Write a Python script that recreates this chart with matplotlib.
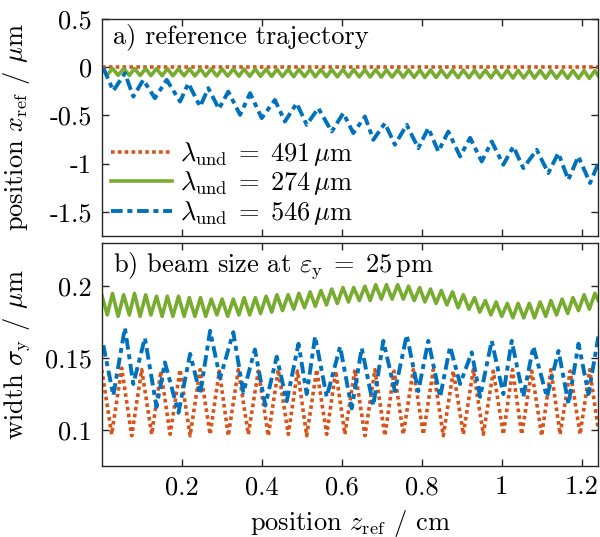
import numpy as np
import matplotlib
matplotlib.use("Agg")
import matplotlib.pyplot as plt

plt.rcParams["font.family"] = ["cmr10", "DejaVu Serif"]
plt.rcParams["mathtext.fontset"] = "cm"
plt.rcParams["axes.unicode_minus"] = False
plt.rcParams["axes.formatter.use_mathtext"] = True
plt.rcParams["font.size"] = 19

# ---- data ----
z_lim = [0.0, 1.2415]

# lambda_und = 491 um (orange, dotted)
x491_z = [0.0, 1.2415]
x491 = [0.0, 0.0]

size491_z = [0.000, 0.025, 0.050, 0.075, 0.100, 0.125, 0.148, 0.171, 0.196, 0.221,
             0.246, 0.271, 0.294, 0.3165, 0.3415, 0.3665, 0.3915, 0.4165, 0.4415, 0.4665,
             0.4895, 0.5125, 0.5375, 0.5625, 0.585, 0.608, 0.633, 0.658, 0.683, 0.708,
             0.731, 0.754, 0.779, 0.804, 0.829, 0.854, 0.879, 0.904, 0.929, 0.954,
             0.979, 1.004, 1.027, 1.050, 1.075, 1.100, 1.123, 1.146, 1.171, 1.196,
             1.220, 1.2415]
size491 = [0.142, 0.097, 0.143, 0.096, 0.142, 0.097, 0.141, 0.097, 0.142, 0.096,
           0.142, 0.097, 0.141, 0.096, 0.142, 0.097, 0.141, 0.096, 0.142, 0.097,
           0.141, 0.096, 0.142, 0.097, 0.141, 0.097, 0.142, 0.096, 0.142, 0.096,
           0.141, 0.097, 0.142, 0.097, 0.142, 0.096, 0.141, 0.097, 0.142, 0.097,
           0.141, 0.097, 0.142, 0.097, 0.141, 0.096, 0.142, 0.097, 0.141, 0.097,
           0.142, 0.100]

# lambda_und = 274 um (green, solid)
g274_z = [0.000, 0.014, 0.027, 0.041, 0.055, 0.069, 0.082, 0.096, 0.110, 0.123,
          0.137, 0.151, 0.164, 0.178, 0.192, 0.206, 0.219, 0.233, 0.247, 0.260,
          0.274, 0.288, 0.301, 0.315, 0.329, 0.343, 0.356, 0.370, 0.384, 0.397,
          0.411, 0.425, 0.438, 0.452, 0.466, 0.480, 0.493, 0.507, 0.521, 0.534,
          0.548, 0.562, 0.575, 0.589, 0.603, 0.617, 0.630, 0.644, 0.658, 0.671,
          0.685, 0.699, 0.712, 0.726, 0.740, 0.754, 0.767, 0.781, 0.795, 0.808,
          0.822, 0.836, 0.849, 0.863, 0.877, 0.891, 0.904, 0.918, 0.932, 0.945,
          0.959, 0.973, 0.986, 1.000, 1.014, 1.028, 1.041, 1.055, 1.069, 1.082,
          1.096, 1.110, 1.123, 1.137, 1.151, 1.165, 1.178, 1.192, 1.206, 1.219,
          1.233, 1.2415]
x274 = [0.000, -0.082, -0.012, -0.084, -0.013, -0.085, -0.013, -0.086, -0.014, -0.087,
        -0.014, -0.088, -0.015, -0.088, -0.016, -0.089, -0.016, -0.090, -0.017, -0.091,
        -0.017, -0.091, -0.018, -0.092, -0.018, -0.093, -0.019, -0.094, -0.019, -0.094,
        -0.020, -0.095, -0.021, -0.096, -0.021, -0.097, -0.022, -0.097, -0.022, -0.098,
        -0.023, -0.099, -0.023, -0.100, -0.024, -0.100, -0.024, -0.101, -0.025, -0.102,
        -0.025, -0.103, -0.026, -0.103, -0.026, -0.104, -0.027, -0.105, -0.027, -0.106,
        -0.028, -0.106, -0.028, -0.107, -0.029, -0.108, -0.029, -0.109, -0.030, -0.109,
        -0.030, -0.110, -0.031, -0.111, -0.031, -0.112, -0.032, -0.112, -0.032, -0.113,
        -0.033, -0.114, -0.033, -0.114, -0.034, -0.115, -0.034, -0.116, -0.035, -0.116,
        -0.035, -0.090]
size274 = [0.194, 0.180, 0.195, 0.179, 0.194, 0.180, 0.195, 0.179, 0.194, 0.180,
           0.193, 0.179, 0.193, 0.179, 0.193, 0.179, 0.192, 0.179, 0.192, 0.179,
           0.191, 0.180, 0.191, 0.179, 0.191, 0.180, 0.192, 0.180, 0.192, 0.181,
           0.193, 0.182, 0.194, 0.183, 0.194, 0.184, 0.195, 0.185, 0.196, 0.186,
           0.197, 0.187, 0.198, 0.188, 0.199, 0.189, 0.199, 0.190, 0.200, 0.190,
           0.201, 0.191, 0.201, 0.191, 0.201, 0.191, 0.200, 0.190, 0.199, 0.189,
           0.198, 0.188, 0.197, 0.187, 0.196, 0.185, 0.194, 0.184, 0.192, 0.182,
           0.190, 0.180, 0.189, 0.179, 0.188, 0.178, 0.188, 0.178, 0.188, 0.178,
           0.189, 0.179, 0.190, 0.180, 0.191, 0.181, 0.192, 0.183, 0.194, 0.184,
           0.195, 0.190]

# lambda_und = 546 um (blue, dash-dot)
x546_z = [0.004, 0.029, 0.058, 0.079, 0.104, 0.133, 0.1625, 0.196, 0.2165, 0.246,
          0.2665, 0.293, 0.3165, 0.346, 0.371, 0.400, 0.433, 0.458, 0.4875, 0.5125,
          0.5415, 0.575, 0.604, 0.629, 0.658, 0.679, 0.708, 0.733, 0.7625, 0.7915,
          0.8165, 0.8415, 0.8665, 0.896, 0.921, 0.950, 0.975, 1.004, 1.029, 1.054,
          1.0875, 1.1165, 1.1415, 1.1665, 1.1915, 1.221, 1.2415]
x546 = [-0.007, -0.245, -0.062, -0.304, -0.131, -0.321, -0.131, -0.356, -0.166, -0.408,
        -0.217, -0.432, -0.253, -0.494, -0.269, -0.528, -0.339, -0.563, -0.373, -0.597,
        -0.424, -0.667, -0.476, -0.683, -0.511, -0.753, -0.580, -0.804, -0.597, -0.839,
        -0.631, -0.874, -0.667, -0.925, -0.732, -0.977, -0.770, -1.011, -0.822, -1.046,
        -0.856, -1.097, -0.890, -1.167, -0.925, -1.201, -0.994]

size546_z = [0.004, 0.029, 0.058, 0.079, 0.108, 0.137, 0.158, 0.192, 0.221, 0.246,
             0.271, 0.296, 0.329, 0.354, 0.383, 0.409, 0.4375, 0.4625, 0.492, 0.5125,
             0.5335, 0.5625, 0.596, 0.625, 0.650, 0.679, 0.704, 0.733, 0.7625, 0.7915,
             0.8165, 0.846, 0.871, 0.896, 0.925, 0.946, 0.975, 1.004, 1.025, 1.054,
             1.079, 1.113, 1.142, 1.167, 1.192, 1.217, 1.2415]
size546 = [0.159, 0.124, 0.171, 0.132, 0.164, 0.116, 0.147, 0.112, 0.153, 0.125,
           0.169, 0.136, 0.168, 0.126, 0.156, 0.117, 0.151, 0.120, 0.160, 0.125,
           0.165, 0.123, 0.158, 0.115, 0.157, 0.117, 0.162, 0.127, 0.166, 0.127,
           0.162, 0.123, 0.158, 0.132, 0.154, 0.123, 0.162, 0.125, 0.162, 0.123,
           0.158, 0.123, 0.155, 0.118, 0.160, 0.125, 0.165]

labels = [r"$\lambda_{\rm und}\;=\;491\,\mu\mathrm{m}$",
          r"$\lambda_{\rm und}\;=\;274\,\mu\mathrm{m}$",
          r"$\lambda_{\rm und}\;=\;546\,\mu\mathrm{m}$"]
z_ticks = [0.2, 0.4, 0.6, 0.8, 1.0, 1.2]
z_ticklabels = ["0.2", "0.4", "0.6", "0.8", "1", "1.2"]
x_ticks = [-1.5, -1.0, -0.5, 0.0, 0.5]
x_ticklabels = ["-1.5", "-1", "-0.5", "0", "0.5"]
s_ticks = [0.1, 0.15, 0.2]
s_ticklabels = ["0.1", "0.15", "0.2"]

c_or = "#D95319"
c_gr = "#77AC30"
c_bl = "#0072BD"
ax_col = "#262626"

fig = plt.figure(figsize=(6.0, 5.37), dpi=100)
ax1 = fig.add_axes([0.1695, 0.5605, 0.8277, 0.4041])
ax2 = fig.add_axes([0.1695, 0.1322, 0.8277, 0.4153])

kw_or = dict(color=c_or, lw=2.6, linestyle=(0, (1.0, 0.9)), dash_capstyle="butt")
kw_gr = dict(color=c_gr, lw=2.6, linestyle="-")
kw_bl = dict(color=c_bl, lw=2.8, linestyle=(0, (3.0, 1.2, 1.3, 1.2)), dash_capstyle="butt")

# a) trajectory
ax1.plot(x491_z, x491, label=labels[0], **kw_or)
ax1.plot(g274_z, x274, label=labels[1], **kw_gr)
ax1.plot(x546_z, x546, label=labels[2], **kw_bl)
ax1.set_ylim(-1.75, 0.5)
ax1.set_yticks(x_ticks, x_ticklabels)
ax1.set_xticks(z_ticks, [])
ax1.set_ylabel(r"position $x_{\rm ref}$ / $\mu$m")
ax1.text(0.023, 0.92, "a) reference trajectory", transform=ax1.transAxes,
         ha="left", va="center")
ax1.legend(loc="lower left", frameon=False, handlelength=2.3, handletextpad=0.3,
           labelspacing=0.05, borderaxespad=0.15, borderpad=0.2,
           bbox_to_anchor=(0.0, 0.0))

# b) beam size
ax2.plot(size491_z, size491, **kw_or)
ax2.plot(g274_z, size274, **kw_gr)
ax2.plot(size546_z, size546, **kw_bl)
ax2.set_ylim(0.075, 0.23)
ax2.set_yticks(s_ticks, s_ticklabels)
ax2.set_xticks(z_ticks, z_ticklabels)
ax2.set_ylabel(r"width $\sigma_{\rm y}$ / $\mu$m")
ax2.set_xlabel(r"position $z_{\rm ref}$ / cm")
ax2.text(0.023, 0.90, r"b) beam size at $\varepsilon_{\rm y}\;=\;25\,$pm",
         transform=ax2.transAxes, ha="left", va="center")

for ax in (ax1, ax2):
    ax.set_xlim(z_lim)
    ax.tick_params(direction="in", top=True, right=True, length=5, width=1,
                   color=ax_col, labelcolor="black", pad=7)
    for sp in ax.spines.values():
        sp.set_color(ax_col)
        sp.set_linewidth(1.0)
    ax.yaxis.set_label_coords(-0.14, 0.5)

ax2.xaxis.labelpad = 6

fig.savefig("out.png", dpi=100)
